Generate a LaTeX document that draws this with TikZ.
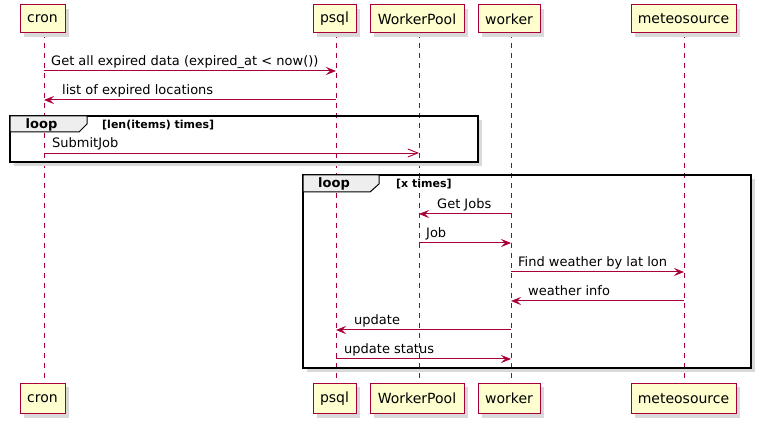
\documentclass[tikz,border=0pt]{standalone}
\usepackage{fontspec}
\setmainfont{DejaVu Sans}
\usetikzlibrary{arrows.meta,shadows}
\definecolor{pbox}{HTML}{FEFECE}
\definecolor{pred}{HTML}{A80036}
\definecolor{ptab}{HTML}{EEEEEE}
\definecolor{pshadow}{HTML}{D9D9D9}
\begin{document}
\begin{tikzpicture}[x=1pt,y=-1pt,
  partbox/.style={draw=pred, fill=pbox, line width=1pt, minimum height=28pt, inner sep=0pt,
    font=\fontsize{14}{16}\selectfont, text=black,
    drop shadow={shadow xshift=4pt, shadow yshift=-4pt, fill=pshadow, opacity=1}},
  lifeline/.style={draw=pred, line width=0.9pt, dash pattern=on 5pt off 5pt},
  msg/.style={draw=pred, line width=1pt, -{Stealth[length=10pt,width=8pt,inset=4pt]}},
  amsg/.style={draw=pred, line width=0.9pt, -{Straight Barb[length=10pt,width=8pt]}},
  mlabel/.style={anchor=base west, inner sep=0pt, font=\fontsize{13}{15}\selectfont},
  framebox/.style={draw=black, line width=1.5pt},
  frameshadow/.style={draw=pshadow, line width=4pt},
  tabshape/.style={draw=black, line width=1pt, fill=ptab},
  looplabel/.style={anchor=base west, inner sep=0pt, font=\fontsize{13}{15}\selectfont\bfseries},
  condlabel/.style={anchor=base west, inner sep=0pt, font=\fontsize{11}{13}\selectfont\bfseries}
]
\useasboundingbox (0,0) rectangle (763,427);

% lifeline x positions
\coordinate (cronL) at (44,0);
\coordinate (psqlL) at (336,0);
\coordinate (poolL) at (419,0);
\coordinate (workL) at (511,0);
\coordinate (meteoL) at (684,0);

% lifelines
\coordinate (llTop) at (0,33);
\coordinate (llBot) at (0,383);
\draw[lifeline] (cronL |- llTop) -- (cronL |- llBot);
\draw[lifeline] (psqlL |- llTop) -- (psqlL |- llBot);
\draw[lifeline] (poolL |- llTop) -- (poolL |- llBot);
\draw[lifeline] (workL |- llTop) -- (workL |- llBot);
\draw[lifeline] (meteoL |- llTop) -- (meteoL |- llBot);

% participants top
\node[partbox, minimum width=45pt]  (cronT)  at (42.5,19) {cron};
\node[partbox, minimum width=43pt]  (psqlT)  at (334.5,19) {psql};
\node[partbox, minimum width=94pt]  (poolT)  at (417,19) {WorkerPool};
\node[partbox, minimum width=62pt]  (workT)  at (509,19) {worker};
\node[partbox, minimum width=105pt] (meteoT) at (683.5,19) {meteosource};
% participants bottom
\node[partbox, minimum width=45pt, minimum height=30pt]  (cronB)  at (42.5,398.5) {cron};
\node[partbox, minimum width=43pt, minimum height=30pt]  (psqlB)  at (334.5,398.5) {psql};
\node[partbox, minimum width=94pt, minimum height=30pt]  (poolB)  at (417,398.5) {WorkerPool};
\node[partbox, minimum width=62pt, minimum height=30pt]  (workB)  at (509,398.5) {worker};
\node[partbox, minimum width=105pt, minimum height=30pt] (meteoB) at (683.5,398.5) {meteosource};

% messages before loops
\coordinate (m1) at (0,71);
\draw[msg] (cronL |- m1) -- (psqlL |- m1);
\node[mlabel] (t1) at (51,66) {Get all expired data (expired\_at < now())};
\coordinate (m2) at (0,100);
\draw[msg] (psqlL |- m2) -- (cronL |- m2);
\node[mlabel] (t2) at (62,95) {list of expired locations};

% loop 1
\draw[frameshadow] (480,120) -- (480,164) -- (14,164);
\draw[framebox] (10,116) rectangle (478,162);
\draw[tabshape] (10,116) -- (87,116) -- (87,124) -- (79,132) -- (10,132) -- cycle;
\node[looplabel] (l1) at (25.5,129) {loop};
\node[condlabel] (c1) at (102,129) {[len(items) times]};
\coordinate (m3) at (0,153);
\draw[amsg] (cronL |- m3) -- (poolL |- m3);
\node[mlabel] (t3) at (52,148) {SubmitJob};

% loop 2
\draw[frameshadow] (753,179) -- (753,370) -- (307,370);
\draw[framebox] (303,175) rectangle (751,368);
\draw[tabshape] (303,175) -- (379,175) -- (379,184) -- (370,192) -- (303,192) -- cycle;
\node[looplabel] (l2) at (318,188) {loop};
\node[condlabel] (c2) at (396,188) {[x times]};

\coordinate (m4) at (0,214);
\draw[msg] (workL |- m4) -- (poolL |- m4);
\node[mlabel] (t4) at (437,209) {Get Jobs};
\coordinate (m5) at (0,243);
\draw[msg] (poolL |- m5) -- (workL |- m5);
\node[mlabel] (t5) at (426,238) {Job};
\coordinate (m6) at (0,272);
\draw[msg] (workL |- m6) -- (meteoL |- m6);
\node[mlabel] (t6) at (518,267) {Find weather by lat lon};
\coordinate (m7) at (0,301);
\draw[msg] (meteoL |- m7) -- (workL |- m7);
\node[mlabel] (t7) at (528,296) {weather info};
\coordinate (m8) at (0,330);
\draw[msg] (workL |- m8) -- (psqlL |- m8);
\node[mlabel] (t8) at (354,325) {update};
\coordinate (m9) at (0,359);
\draw[msg] (psqlL |- m9) -- (workL |- m9);
\node[mlabel] (t9) at (344,354) {update status};
\end{tikzpicture}
\end{document}
